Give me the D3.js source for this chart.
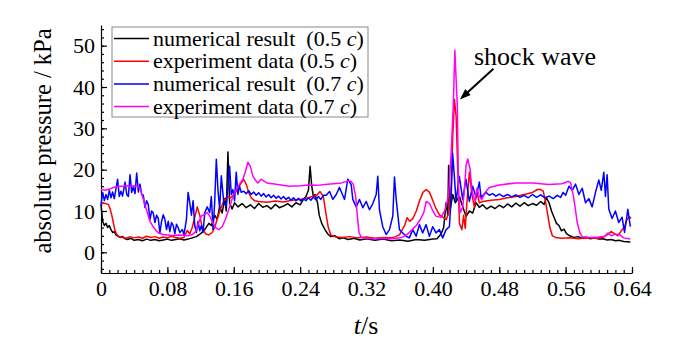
<!DOCTYPE html>
<html>
<head>
<meta charset="utf-8">
<script src="https://cdn.jsdelivr.net/npm/d3@7"></script>
<style>
body { margin: 0; background: #fff; }
svg text { font-family: "Liberation Serif", "Times New Roman", serif; fill: #000; }
</style>
</head>
<body>
<div id="chart"></div>
<script>
// t (s), absolute pressure (kPa)
var numerical05 = [[0,11.5],[0.002,7.5],[0.004,6.5],[0.006,7],[0.008,6],[0.010,6.5],[0.012,5.5],[0.014,4.8],[0.016,5],[0.018,4.2],[0.020,4],[0.023,3.6],[0.026,3.8],[0.029,3.3],[0.032,3.1],[0.036,3.4],[0.040,2.9],[0.045,3.1],[0.050,2.8],[0.055,3.2],[0.060,2.9],[0.065,3.1],[0.070,2.8],[0.075,3.0],[0.080,3.2],[0.085,2.9],[0.090,3.1],[0.095,3.3],[0.100,3.0],[0.105,3.2],[0.110,3.5],[0.115,3.8],[0.120,4.5],[0.125,5.5],[0.130,7],[0.133,6.5],[0.137,9],[0.140,8],[0.143,11],[0.146,9.5],[0.149,13],[0.151,10],[0.153,24.3],[0.155,12],[0.158,10.5],[0.161,12],[0.165,11],[0.170,11.8],[0.175,10.8],[0.180,11.5],[0.185,10.6],[0.190,11.8],[0.195,10.9],[0.200,11.3],[0.205,10.5],[0.210,11.6],[0.215,10.8],[0.220,11.2],[0.225,11.8],[0.230,11.0],[0.235,12.0],[0.240,11.5],[0.244,12.8],[0.247,13.5],[0.250,15],[0.252,20.8],[0.254,16],[0.256,13.5],[0.258,14],[0.261,12],[0.263,9],[0.266,7],[0.270,5.5],[0.273,4.5],[0.277,3.8],[0.282,4],[0.287,3.3],[0.292,3.5],[0.298,3.1],[0.305,3.4],[0.312,3.0],[0.320,3.3],[0.330,2.9],[0.340,3.2],[0.350,2.8],[0.360,3.0],[0.370,2.7],[0.380,3.1],[0.390,2.9],[0.400,3.2],[0.405,3.3],[0.410,4.5],[0.413,6],[0.416,12],[0.418,9],[0.419,21],[0.421,10.5],[0.424,14],[0.427,12],[0.432,13.5],[0.436,11],[0.440,8.7],[0.444,10],[0.448,9.5],[0.452,12],[0.456,10.9],[0.460,11.5],[0.465,10.5],[0.470,11.2],[0.475,10.6],[0.480,11.4],[0.485,10.8],[0.490,11.7],[0.495,11],[0.500,11.9],[0.505,11.2],[0.510,12],[0.515,11.3],[0.520,11.8],[0.525,11.4],[0.530,12.3],[0.534,11.6],[0.537,13.2],[0.540,12],[0.543,10],[0.546,8.5],[0.549,7],[0.552,6.5],[0.555,5.2],[0.558,5.6],[0.561,4.5],[0.565,4.0],[0.570,3.6],[0.575,3.8],[0.580,3.4],[0.585,3.6],[0.590,3.3],[0.595,3.5],[0.600,3.2],[0.605,3.3],[0.610,3.0],[0.615,3.1],[0.620,2.8],[0.625,2.9],[0.630,2.6],[0.638,2.5]];

var experiment05 = [[0,12],[0.005,11.8],[0.009,11.6],[0.011,10.5],[0.013,9],[0.015,7],[0.017,5.2],[0.019,4.3],[0.022,3.8],[0.026,3.6],[0.030,3.4],[0.035,3.8],[0.040,3.5],[0.045,3.7],[0.050,3.4],[0.055,3.9],[0.060,3.6],[0.065,3.8],[0.070,3.4],[0.075,3.7],[0.080,3.5],[0.085,3.9],[0.090,3.6],[0.095,3.4],[0.100,3.6],[0.104,5.3],[0.107,4.5],[0.110,6],[0.113,8.5],[0.116,11],[0.119,9],[0.122,6],[0.126,4.5],[0.130,4.2],[0.134,4.8],[0.137,6],[0.140,8],[0.144,10.5],[0.148,12.5],[0.152,13.5],[0.156,13.2],[0.160,14],[0.164,15],[0.168,16.5],[0.172,17.6],[0.175,16.5],[0.178,14.5],[0.181,13.2],[0.185,12.5],[0.190,12.3],[0.200,12.1],[0.210,12.4],[0.220,12.2],[0.230,12.6],[0.240,12.8],[0.250,13.2],[0.260,13.8],[0.264,14.7],[0.268,13.5],[0.271,9.5],[0.274,6],[0.277,4.2],[0.281,3.8],[0.290,3.6],[0.300,3.8],[0.310,3.5],[0.320,3.7],[0.330,3.4],[0.340,3.6],[0.350,3.5],[0.355,3.8],[0.360,4.3],[0.363,5.5],[0.366,6.5],[0.369,8.4],[0.372,7.5],[0.376,8.2],[0.380,10],[0.384,12.5],[0.388,14.5],[0.392,15.2],[0.396,14.5],[0.400,12.5],[0.404,10.5],[0.408,9],[0.412,8.5],[0.416,7.9],[0.419,9.5],[0.422,15],[0.424,28],[0.426,37],[0.428,33],[0.430,20],[0.432,7],[0.435,5.5],[0.437,9],[0.439,5.8],[0.441,12],[0.444,19.4],[0.447,14],[0.450,11],[0.453,14.5],[0.456,12],[0.460,12.3],[0.470,12.6],[0.480,12.8],[0.490,13.2],[0.500,13.5],[0.510,14],[0.520,14.5],[0.526,15.2],[0.530,15.2],[0.533,14.8],[0.536,12],[0.538,9.6],[0.541,6],[0.544,4],[0.548,3.6],[0.555,3.4],[0.565,3.5],[0.575,3.3],[0.585,3.5],[0.595,3.4],[0.605,3.6],[0.610,4.2],[0.615,5],[0.619,4.5],[0.623,4.0],[0.627,5.2],[0.631,6.2],[0.634,8],[0.637,8.6],[0.639,8.2]];

var numerical07 = [[0,11.5],[0.002,14.5],[0.004,12.5],[0.006,14],[0.008,12.8],[0.010,15],[0.012,13.2],[0.014,14.6],[0.016,13],[0.018,15.3],[0.020,17.7],[0.022,13.5],[0.024,14.8],[0.026,13.6],[0.029,17],[0.031,14],[0.033,13.5],[0.035,18.8],[0.037,14.5],[0.039,15.8],[0.041,14.2],[0.043,19.2],[0.045,14.6],[0.047,16.5],[0.049,14],[0.051,13.8],[0.053,10.9],[0.055,12.5],[0.057,11.5],[0.059,7.9],[0.061,10],[0.063,9.5],[0.065,7.2],[0.067,9],[0.069,8.2],[0.071,4.7],[0.073,7.5],[0.075,9.1],[0.077,8],[0.079,5.5],[0.081,7.5],[0.083,5],[0.085,7.2],[0.087,6.5],[0.089,4.5],[0.091,6.8],[0.093,6],[0.095,4.8],[0.098,5.5],[0.100,4.3],[0.103,8],[0.105,14.5],[0.107,12],[0.109,9],[0.111,12.5],[0.113,6.5],[0.115,4.8],[0.117,7.5],[0.119,5.2],[0.121,6.5],[0.123,4.8],[0.125,9.5],[0.128,11],[0.131,9.6],[0.133,13.5],[0.135,5.5],[0.137,12],[0.139,22.5],[0.141,15],[0.143,10.5],[0.145,18.5],[0.148,12],[0.151,11.2],[0.155,20.8],[0.157,14],[0.159,15.2],[0.161,12.5],[0.163,19.4],[0.165,14],[0.167,16],[0.169,14.5],[0.172,14.8],[0.175,14.2],[0.178,14.9],[0.181,14],[0.184,14.6],[0.187,13.8],[0.190,14.4],[0.193,13.6],[0.196,14.2],[0.199,13.4],[0.202,14],[0.205,13.2],[0.208,13.8],[0.211,13.1],[0.214,13.6],[0.217,12.9],[0.220,13.5],[0.223,12.8],[0.226,13.3],[0.229,12.6],[0.232,13.2],[0.235,12.5],[0.238,13.1],[0.241,12.4],[0.244,13],[0.247,12.5],[0.250,13.2],[0.253,12.6],[0.256,13.4],[0.259,12.7],[0.262,13.5],[0.265,12.8],[0.268,13.8],[0.2715,13.8],[0.2755,14.7],[0.2795,12.8],[0.2835,14],[0.2875,15.7],[0.2935,12.8],[0.2975,17.7],[0.3016,16.3],[0.3035,12.8],[0.3076,11],[0.3116,12.8],[0.3156,10.8],[0.3196,12.3],[0.3236,10.3],[0.3276,11.8],[0.3317,14],[0.3336,18.4],[0.3356,10.3],[0.3396,6.2],[0.3437,4.3],[0.3477,5.5],[0.3517,8.8],[0.3537,18.2],[0.3557,13],[0.3597,5.5],[0.3637,4.7],[0.3677,3.9],[0.3717,3.5],[0.3757,5.5],[0.3798,3.9],[0.3838,6.7],[0.3877,4.7],[0.3918,6.7],[0.3958,3.9],[0.3998,6.2],[0.4038,4.7],[0.4078,5.5],[0.4118,3.5],[0.4159,5.5],[0.4199,6.2],[0.4219,12.8],[0.4238,24],[0.4259,18.4],[0.4279,12.3],[0.4319,18.4],[0.4359,12.8],[0.4399,17.7],[0.4439,12.3],[0.448,16],[0.452,13.3],[0.456,17],[0.458,13.3],[0.464,14.5],[0.468,13.8],[0.472,14.2],[0.476,13.6],[0.480,14.1],[0.485,13.5],[0.490,14],[0.495,13.4],[0.500,13.9],[0.505,13.3],[0.510,13.8],[0.515,13.2],[0.520,14],[0.525,13.3],[0.530,13.9],[0.535,13.2],[0.540,13.6],[0.545,13],[0.550,13.8],[0.554,13.3],[0.557,14.5],[0.560,13.8],[0.564,16],[0.568,15],[0.572,16.5],[0.576,14],[0.580,15.5],[0.584,12],[0.588,13],[0.592,11],[0.596,14.5],[0.600,17.5],[0.603,15],[0.606,19.4],[0.608,13.5],[0.610,18.8],[0.612,10.5],[0.616,8.2],[0.620,10],[0.624,7.2],[0.628,8.5],[0.631,4.8],[0.635,10.4],[0.638,6.2]];

var experiment07 = [[0,15.2],[0.005,15],[0.010,15.3],[0.015,15.7],[0.020,15.9],[0.025,16],[0.030,16.1],[0.035,16],[0.040,16.1],[0.044,16],[0.047,15.5],[0.050,13.5],[0.053,11.5],[0.056,9.5],[0.059,7.5],[0.062,6.5],[0.066,5.3],[0.070,4.6],[0.075,4.3],[0.085,4.1],[0.095,4.2],[0.105,4.0],[0.110,4.3],[0.114,5],[0.117,6.8],[0.121,8.8],[0.125,9.2],[0.128,9.6],[0.131,8.8],[0.135,7],[0.139,5.8],[0.142,5.5],[0.146,6.2],[0.150,8],[0.155,11],[0.159,13.5],[0.163,15.2],[0.167,16.5],[0.171,17.7],[0.174,19.5],[0.177,21.8],[0.180,20.8],[0.183,18.5],[0.186,17.5],[0.189,16.8],[0.193,17.7],[0.196,17.3],[0.200,16.8],[0.211,16.5],[0.227,16],[0.240,16.1],[0.250,16.3],[0.260,16.2],[0.270,16.4],[0.280,16.6],[0.290,16.8],[0.297,17.2],[0.301,17.2],[0.304,16.5],[0.307,13.5],[0.309,8.7],[0.311,4.7],[0.314,3.6],[0.320,3.4],[0.330,3.3],[0.340,3.4],[0.350,3.3],[0.360,3.5],[0.365,3.8],[0.370,4.5],[0.375,5.5],[0.380,6.5],[0.385,8],[0.389,9.6],[0.392,12.3],[0.396,11.8],[0.400,10],[0.404,8.7],[0.410,8.5],[0.415,10.4],[0.419,14],[0.422,24],[0.4245,35],[0.4265,48.9],[0.428,42],[0.4295,35.5],[0.431,14],[0.433,9.6],[0.436,11],[0.438,15],[0.440,21],[0.442,22.6],[0.445,20],[0.447,15],[0.449,13.5],[0.451,12.5],[0.453,15.5],[0.456,13.5],[0.459,12.8],[0.463,14.5],[0.468,15.7],[0.480,16.3],[0.500,16.8],[0.520,16.8],[0.540,16.4],[0.555,16.6],[0.560,16.9],[0.563,17.2],[0.566,16.8],[0.569,14],[0.571,11.5],[0.574,7.2],[0.577,4.8],[0.580,3.8],[0.590,3.6],[0.600,3.7],[0.607,3.9],[0.611,4.7],[0.615,4.0],[0.620,4.4],[0.625,4.3],[0.630,3.5],[0.638,3.2]];

var xTicks = [0, 0.08, 0.16, 0.24, 0.32, 0.40, 0.48, 0.56, 0.64];
var xTickLabels = ["0", "0.08", "0.16", "0.24", "0.32", "0.40", "0.48", "0.56", "0.64"];
var yTicks = [0, 10, 20, 30, 40, 50];

var series = [
  {name: "numerical result  (0.5 ", values: numerical05, color: "#000000"},
  {name: "experiment data (0.5 ", values: experiment05, color: "#ff0000"},
  {name: "numerical result  (0.7 ", values: numerical07, color: "#0000ff"},
  {name: "experiment data (0.7 ", values: experiment07, color: "#ff00ff"}
];

var SERIF = "'Liberation Serif', 'Times New Roman', serif";
var width = 673, height = 346;

var x = d3.scaleLinear().domain([0, 0.64]).range([101, 632]);
var y = d3.scaleLinear().domain([-5, 55]).range([273, 25]);

var svg = d3.select("#chart").append("svg")
    .attr("width", width)
    .attr("height", height)
    .attr("font-family", SERIF);

// minor ticks first
svg.append("g")
    .attr("transform", "translate(0,273)")
    .call(d3.axisBottom(x).tickValues(d3.range(0, 65).map(function(i) { return i / 100; }))
      .tickSize(-3).tickFormat(""))
    .call(function(g) { g.select(".domain").remove(); });

svg.append("g")
    .attr("transform", "translate(101,0)")
    .call(d3.axisLeft(y).tickValues(d3.range(-4, 56, 2)).tickSize(-3).tickFormat(""))
    .call(function(g) { g.select(".domain").remove(); });

var xAxis = svg.append("g")
    .attr("transform", "translate(0,273)")
    .call(d3.axisBottom(x).tickValues(xTicks).tickSize(-6).tickSizeOuter(0).tickPadding(7)
      .tickFormat(function(d, i) { return xTickLabels[i]; }));

var yAxis = svg.append("g")
    .attr("transform", "translate(101,0)")
    .call(d3.axisLeft(y).tickValues(yTicks).tickSize(-6).tickSizeOuter(0).tickPadding(6));

svg.selectAll("g").attr("font-family", SERIF);
svg.selectAll(".tick text")
    .attr("font-family", SERIF)
    .style("font-family", SERIF)
    .style("font-size", "22px");
svg.selectAll(".domain, .tick line").attr("stroke", "#000").attr("stroke-width", 1.2);

// lines
var line = d3.line()
    .x(function(d) { return x(d[0]); })
    .y(function(d) { return y(d[1]); });

svg.selectAll(".series")
    .data(series)
  .enter().append("path")
    .attr("class", "series")
    .attr("d", function(d) { return line(d.values); })
    .attr("fill", "none")
    .attr("stroke", function(d) { return d.color; })
    .attr("stroke-width", 1.5)
    .attr("stroke-linejoin", "round");

// axis titles
svg.append("text")
    .attr("transform", "translate(51,141) rotate(-90)")
    .attr("text-anchor", "middle")
    .style("font-family", SERIF)
    .style("font-size", "24.5px")
    .text("absolute pressure / kPa");

var xt = svg.append("text")
    .attr("x", 366)
    .attr("y", 334)
    .attr("text-anchor", "middle")
    .style("font-family", SERIF)
    .style("font-size", "26px");
xt.append("tspan").style("font-style", "italic").text("t");
xt.append("tspan").text("/s");

// legend
var legend = svg.append("g");
legend.append("rect")
    .attr("x", 112).attr("y", 27)
    .attr("width", 256).attr("height", 90)
    .attr("fill", "#fff")
    .attr("stroke", "#888")
    .attr("stroke-width", 1);

var rows = legend.selectAll(".row")
    .data(series)
  .enter().append("g")
    .attr("class", "row")
    .attr("transform", function(d, i) { return "translate(0," + (38.5 + i * 22.7) + ")"; });

rows.append("line")
    .attr("x1", 114).attr("x2", 149)
    .attr("stroke", function(d) { return d.color; })
    .attr("stroke-width", 1.5);

var lt = rows.append("text")
    .attr("x", 153)
    .attr("y", 7)
    .style("font-family", SERIF)
    .style("font-size", "22px")
    .style("white-space", "pre");
lt.append("tspan").text(function(d) { return d.name; });
lt.append("tspan").style("font-style", "italic").text("c");
lt.append("tspan").text(")");

// shock wave annotation
svg.append("text")
    .attr("x", 474)
    .attr("y", 65)
    .style("font-family", SERIF)
    .style("font-size", "26px")
    .text("shock wave");

var tip = [x(0.4325), y(37)], tail = [x(0.473), y(44.4)];
var ang = Math.atan2(tip[1] - tail[1], tip[0] - tail[0]);
var hl = 11, hw = 4;
svg.append("line")
    .attr("x1", tail[0]).attr("y1", tail[1])
    .attr("x2", tip[0] - Math.cos(ang) * hl * 0.8).attr("y2", tip[1] - Math.sin(ang) * hl * 0.8)
    .attr("stroke", "#000").attr("stroke-width", 2);
svg.append("path")
    .attr("d", "M" + tip[0] + "," + tip[1] +
      "L" + (tip[0] - Math.cos(ang) * hl - Math.sin(ang) * hw) + "," + (tip[1] - Math.sin(ang) * hl + Math.cos(ang) * hw) +
      "L" + (tip[0] - Math.cos(ang) * hl + Math.sin(ang) * hw) + "," + (tip[1] - Math.sin(ang) * hl - Math.cos(ang) * hw) + "Z")
    .attr("fill", "#000");
</script>
</body>
</html>
